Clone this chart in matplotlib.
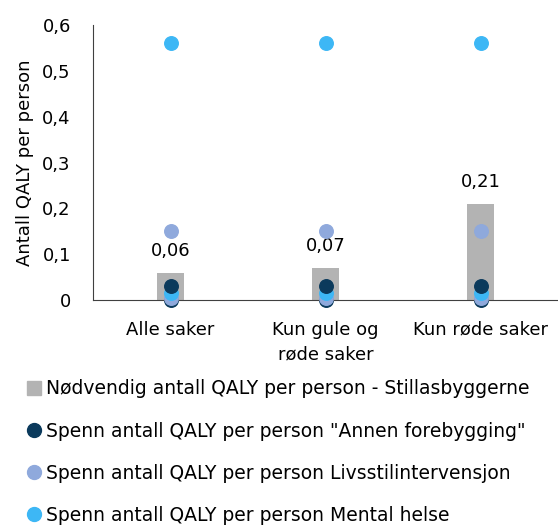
import matplotlib.pyplot as plt
from matplotlib.lines import Line2D

categories = ["Alle saker", "Kun gule og\nrøde saker", "Kun røde saker"]
needed = [0.06, 0.07, 0.21]
annen_span = [0.0, 0.03]
livsstil_span = [0.005, 0.15]
mental_span = [0.015, 0.56]
yticks = [0, 0.1, 0.2, 0.3, 0.4, 0.5, 0.6]
ytick_labels = ["0", "0,1", "0,2", "0,3", "0,4", "0,5", "0,6"]

c_bar = "#b3b3b3"
c_annen = "#0b3a5c"
c_livs = "#8fa9dc"
c_mental = "#3db7f5"

plt.rcParams['font.family'] = ['DejaVu Sans']

fig = plt.figure(figsize=(5.58, 5.25), dpi=100)
ax = fig.add_axes([93 / 558, 1 - 300 / 525, 465 / 558, 275 / 525])

x = list(range(len(categories)))
ax.bar(x, needed, width=0.18, color=c_bar, zorder=1)
for xi, v in zip(x, needed):
    ax.text(xi, v + 0.028, f"{v:.2f}".replace(".", ","), ha="center", va="bottom", fontsize=13)

ms = 95
ax.scatter(x, [annen_span[0]] * 3, s=ms, color=c_annen, zorder=2, clip_on=False)
ax.scatter(x, [livsstil_span[0]] * 3, s=ms, color=c_livs, zorder=3, clip_on=False)
ax.scatter(x, [mental_span[0]] * 3, s=ms, color=c_mental, zorder=4, clip_on=False)
ax.scatter(x, [annen_span[1]] * 3, s=ms, color=c_annen, zorder=5, clip_on=False)
ax.scatter(x, [livsstil_span[1]] * 3, s=ms, color=c_livs, zorder=3, clip_on=False)
ax.scatter(x, [mental_span[1]] * 3, s=ms, color=c_mental, zorder=4, clip_on=False)

ax.set_xlim(-0.5, 2.5)
ax.set_ylim(0, 0.6)
ax.set_yticks(yticks)
ax.set_yticklabels(ytick_labels, fontsize=13)
ax.set_xticks(x)
ax.set_xticklabels(categories, fontsize=13, linespacing=1.45)
ax.tick_params(axis="x", length=0, pad=15)
ax.tick_params(axis="y", length=0, pad=16)
ax.spines["top"].set_visible(False)
ax.spines["right"].set_visible(False)
ax.spines["left"].set_color("#404040")
ax.spines["bottom"].set_color("#404040")
ax.set_ylabel("Antall QALY per person", fontsize=13, labelpad=6)

handles = [
    Line2D([], [], marker="s", linestyle="none", color=c_bar, markersize=10),
    Line2D([], [], marker="o", linestyle="none", color=c_annen, markersize=10),
    Line2D([], [], marker="o", linestyle="none", color=c_livs, markersize=10),
    Line2D([], [], marker="o", linestyle="none", color=c_mental, markersize=10),
]
labels = [
    "Nødvendig antall QALY per person - Stillasbyggerne",
    "Spenn antall QALY per person \"Annen forebygging\"",
    "Spenn antall QALY per person Livsstilintervensjon",
    "Spenn antall QALY per person Mental helse",
]
fig.legend(handles, labels, loc="upper left", bbox_to_anchor=(17 / 558, 1 - 372 / 525),
           frameon=False, fontsize=13.5, handletextpad=0.15, handlelength=1.0,
           labelspacing=1.23, borderaxespad=0)

fig.savefig("out.png", dpi=100)
